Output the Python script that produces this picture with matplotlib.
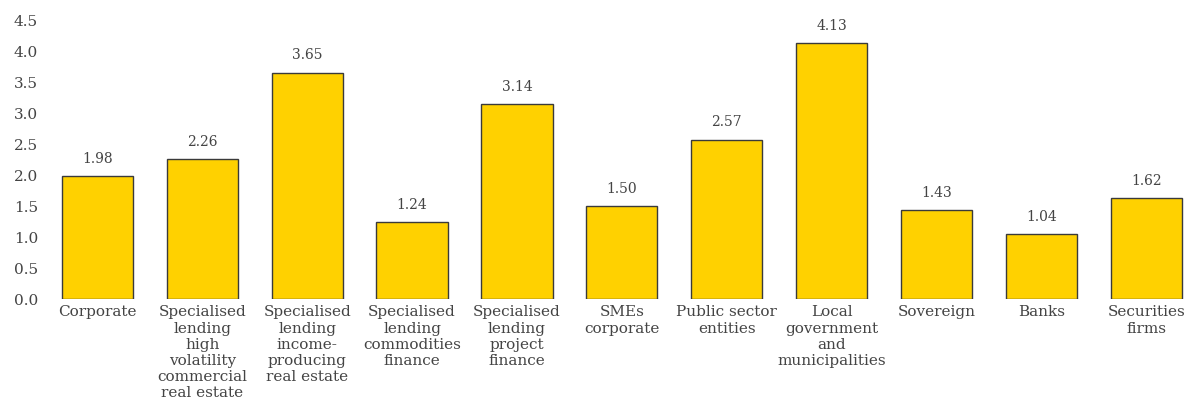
import matplotlib.pyplot as plt

# === Data ===
CATEGORIES = [
    "Corporate",
    "Specialised\nlending\nhigh\nvolatility\ncommercial\nreal estate",
    "Specialised\nlending\nincome-\nproducing\nreal estate",
    "Specialised\nlending\ncommodities\nfinance",
    "Specialised\nlending\nproject\nfinance",
    "SMEs\ncorporate",
    "Public sector\nentities",
    "Local\ngovernment\nand\nmunicipalities",
    "Sovereign",
    "Banks",
    "Securities\nfirms",
]
VALUES = [1.98, 2.26, 3.65, 1.24, 3.14, 1.50, 2.57, 4.13, 1.43, 1.04, 1.62]
Y_TICKS = [0.0, 0.5, 1.0, 1.5, 2.0, 2.5, 3.0, 3.5, 4.0, 4.5]

BAR_COLOR = "#FFD100"
EDGE_COLOR = "#3a3a3a"
TEXT_COLOR = "#444444"

plt.rcParams["font.family"] = ["DejaVu Serif"]

fig = plt.figure(figsize=(11.84, 4.02), dpi=100)
ax = fig.add_axes([0.038, 0.254, 0.962, 0.694])

x = range(len(CATEGORIES))
bars = ax.bar(x, VALUES, width=0.68, color=BAR_COLOR, edgecolor=EDGE_COLOR, linewidth=1.0)

for xi, v in zip(x, VALUES):
    ax.annotate(f"{v:.2f}", (xi, v), xytext=(0, 8), textcoords="offset points",
                ha="center", va="bottom", fontsize=10, color=TEXT_COLOR)

ax.set_xlim(-0.5, 10.36)
ax.set_ylim(0, 4.5)
ax.set_yticks(Y_TICKS)
ax.set_yticklabels([f"{t:.1f}" for t in Y_TICKS])
ax.set_xticks(list(x))
ax.set_xticklabels(CATEGORIES, linespacing=1.2)

ax.tick_params(axis="both", length=0, labelsize=11, colors=TEXT_COLOR)
ax.tick_params(axis="x", pad=4)
ax.tick_params(axis="y", pad=5)
for spine in ax.spines.values():
    spine.set_visible(False)

fig.savefig("out.png", dpi=100)
